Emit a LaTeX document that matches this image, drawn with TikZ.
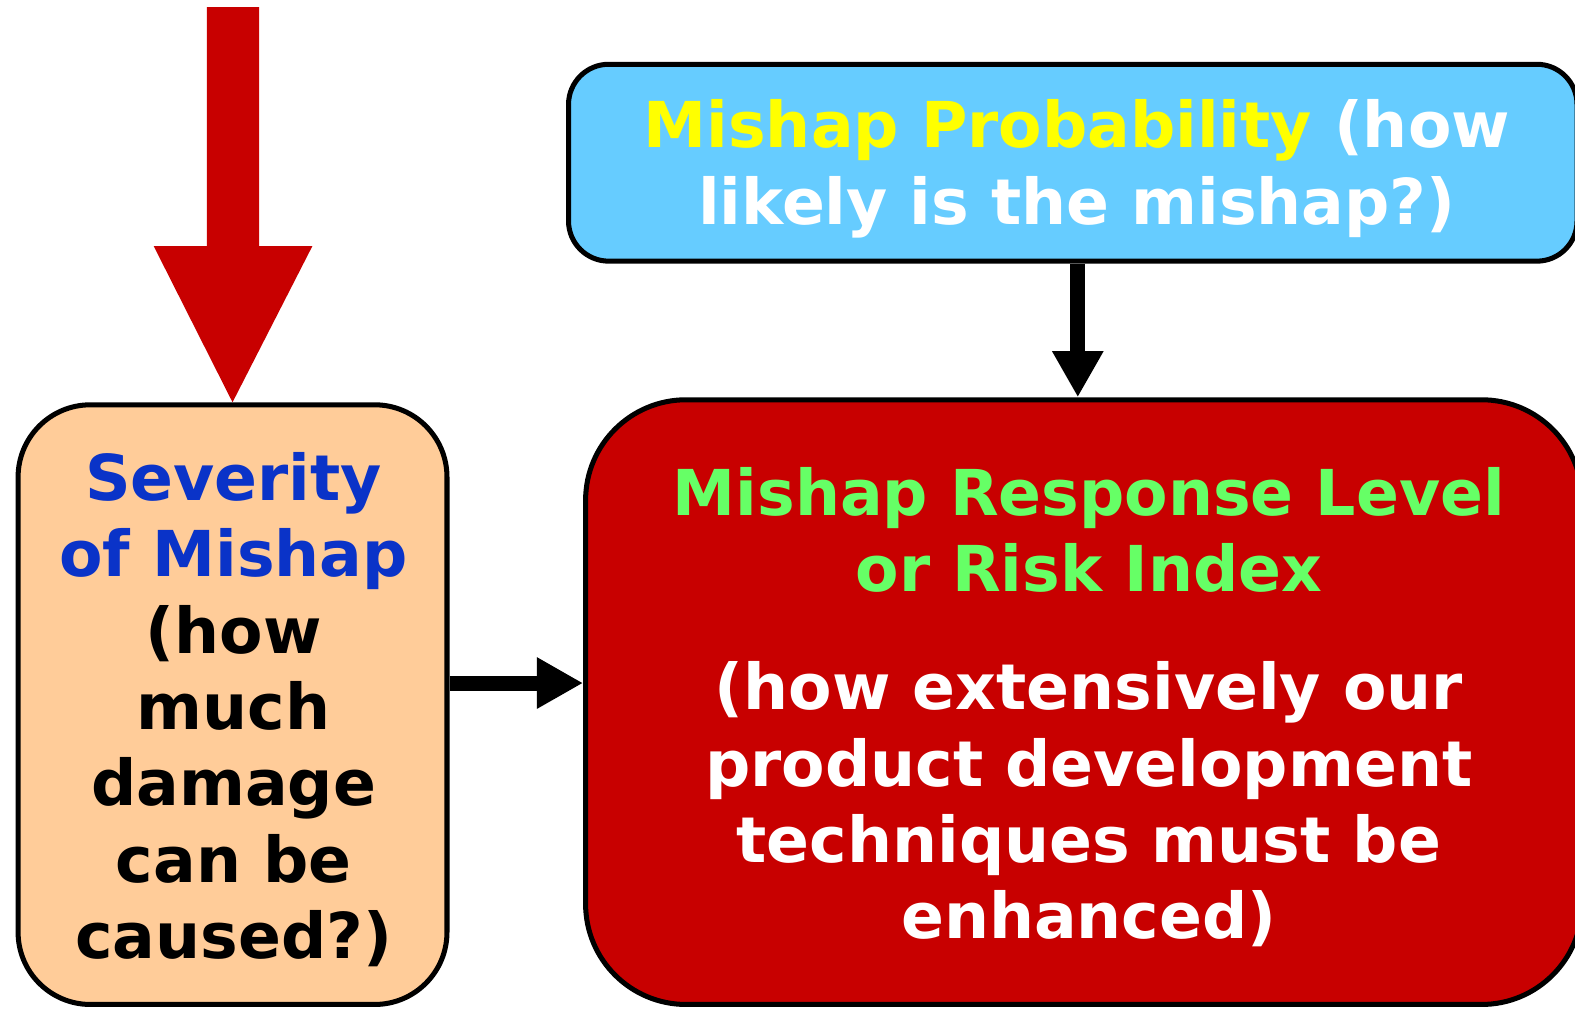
\documentclass[tikz,border=0pt]{standalone}
\usepackage{fontspec}
\setmainfont{DejaVu Sans}
\usetikzlibrary{arrows.meta}
\definecolor{bigred}{HTML}{C80000}
\definecolor{peach}{HTML}{FFCC99}
\definecolor{skyblue}{HTML}{66CCFF}
\definecolor{sevblue}{HTML}{0A33C8}
\definecolor{riskgreen}{HTML}{66FF66}
\definecolor{probyellow}{HTML}{FFFF00}
\begin{document}
\begin{tikzpicture}[x=0.5pt,y=-0.5pt,
  box/.style={draw=black, line width=2.5pt, inner sep=0pt},
  txt/.style={align=center, inner sep=0pt, font=\bfseries\fontsize{31.5}{38}\selectfont},
  conn/.style={line width=7.5pt, -{Triangle[width=24pt,length=23pt]}}]
\useasboundingbox (0,0) rectangle (1568,1005);
\node[box, fill=peach, minimum width=213.5pt, minimum height=298.5pt, rounded corners=36pt] (sev) at (231.5,701.5) {};
\node[box, fill=skyblue, minimum width=502pt, minimum height=98pt, rounded corners=20pt] (prob) at (1068,162) {};
\node[box, fill=bigred, minimum width=496pt, minimum height=301pt, rounded corners=50pt] (risk) at (1079,699) {};
\node[txt] (sevtxt) at ([shift={(1,5)}]sev.center)
  {\textcolor{sevblue}{Severity}\\ \textcolor{sevblue}{of Mishap}\\ (how\\ much\\ damage\\ can be\\ caused?)};
\node[txt, text=white] (probtxt) at ([shift={(4,6)}]prob.center)
  {\textcolor{probyellow}{Mishap Probability} (how\\ likely is the mishap?)};
\node[txt, text=white] (risktxt) at ([shift={(5,5)}]risk.center)
  {\textcolor{riskgreen}{Mishap Response Level}\\ \textcolor{riskgreen}{or Risk Index}\\[21pt] (how extensively our\\ product development\\ techniques must be\\ enhanced)};
\coordinate (pa) at (1073,0);
\coordinate (ha) at (0,680);
\coordinate (redtop) at (232,7);
\draw[conn] (prob.south -| pa) -- (risk.north -| pa);
\draw[conn] (sev.east |- ha) -- (risk.west |- ha);
\fill[bigred] (redtop) ++(-26,0) -- ++(52,0) -- (258,245) -- (311,245) -- (sev.north) -- (153,245) -- (206,245) -- cycle;
\end{tikzpicture}
\end{document}
